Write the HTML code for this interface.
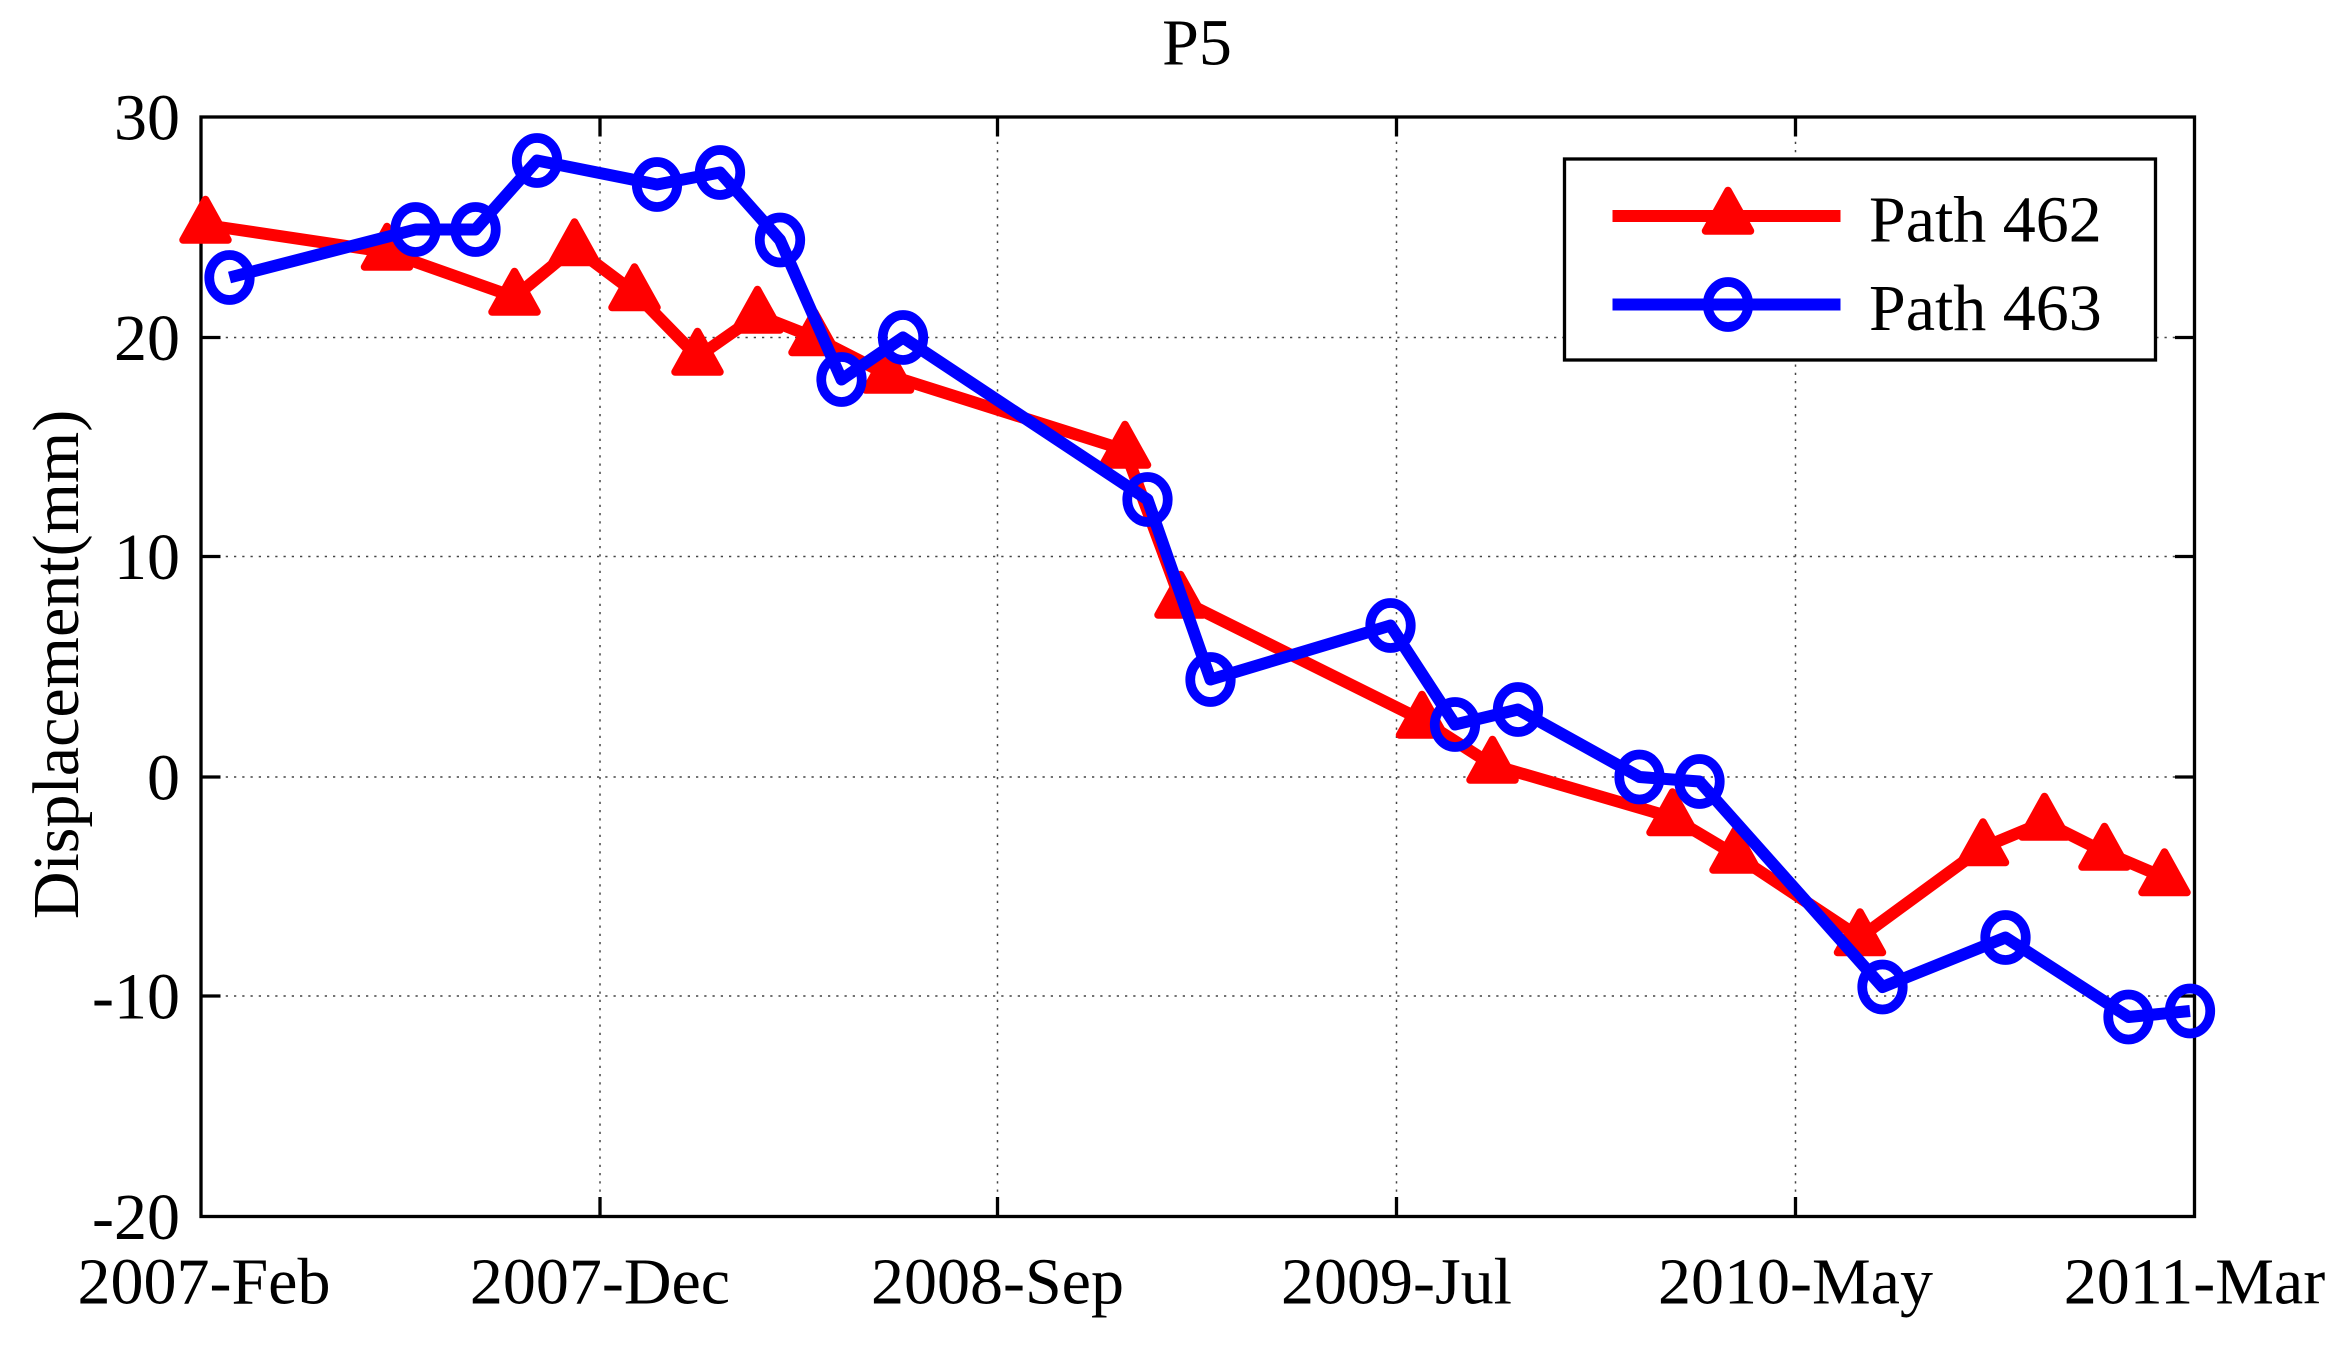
<!DOCTYPE html>
<html><head><style>html,body{margin:0;padding:0;background:#fff}svg{display:block}</style></head>
<body>
<svg width="2351" height="1348" viewBox="0 0 1567.33 898.67" xmlns="http://www.w3.org/2000/svg" font-family="Liberation Serif, serif">
<rect width="1567.33" height="898.67" fill="#fff"/>
<g stroke="#444" stroke-width="1" stroke-dasharray="1.5,4">
<line x1="400" y1="78" x2="400" y2="811"/><line x1="665" y1="78" x2="665" y2="811"/><line x1="931" y1="78" x2="931" y2="811"/><line x1="1197" y1="78" x2="1197" y2="811"/>
<line x1="134" y1="225" x2="1463" y2="225"/><line x1="134" y1="371" x2="1463" y2="371"/><line x1="134" y1="518" x2="1463" y2="518"/><line x1="134" y1="664" x2="1463" y2="664"/>
</g>
<g stroke="#000" stroke-width="2.2">
<rect x="134" y="78" width="1329" height="733" fill="none"/>
<path d="M400 78v13M665 78v13M931 78v13M1197 78v13M400 811v-13M665 811v-13M931 811v-13M1197 811v-13M134 225h13M134 371h13M134 518h13M134 664h13M1463 225h-13M1463 371h-13M1463 518h-13M1463 664h-13"/>
</g>
<g font-size="44" fill="#000">
<g text-anchor="end"><text x="120" y="93">30</text><text x="120" y="240">20</text><text x="120" y="386">10</text><text x="120" y="533">0</text><text x="120" y="679">-10</text><text x="120" y="826">-20</text></g>
<g text-anchor="middle"><text x="136" y="869">2007-Feb</text><text x="400" y="869">2007-Dec</text><text x="665" y="869">2008-Sep</text><text x="931" y="869">2009-Jul</text><text x="1197" y="869">2010-May</text><text x="1463" y="869">2011-Mar</text>
<text x="798" y="43">P5</text>
<text transform="translate(52,443) rotate(-90)">Displacement(mm)</text></g>
</g>
<g stroke="#f00" stroke-width="8" fill="none" stroke-linejoin="round">
<polyline points="137,150 258,168 343,198 383,165 423,195 465,238 505,210 543,225 592,250 750,300 787,400 948,480 995,510 1115,545 1157,570 1240,625 1322,565 1363,548 1403,568 1443,585"/>
</g>
<g fill="#f00" stroke="#f00" stroke-width="5" stroke-linejoin="round">
<path d="M0,-17 L15,10 L-15,10 Z" transform="translate(137,150)"/>
<path d="M0,-17 L15,10 L-15,10 Z" transform="translate(258,168)"/>
<path d="M0,-17 L15,10 L-15,10 Z" transform="translate(343,198)"/>
<path d="M0,-17 L15,10 L-15,10 Z" transform="translate(383,165)"/>
<path d="M0,-17 L15,10 L-15,10 Z" transform="translate(423,195)"/>
<path d="M0,-17 L15,10 L-15,10 Z" transform="translate(465,238)"/>
<path d="M0,-17 L15,10 L-15,10 Z" transform="translate(505,210)"/>
<path d="M0,-17 L15,10 L-15,10 Z" transform="translate(543,225)"/>
<path d="M0,-17 L15,10 L-15,10 Z" transform="translate(592,250)"/>
<path d="M0,-17 L15,10 L-15,10 Z" transform="translate(750,300)"/>
<path d="M0,-17 L15,10 L-15,10 Z" transform="translate(787,400)"/>
<path d="M0,-17 L15,10 L-15,10 Z" transform="translate(948,480)"/>
<path d="M0,-17 L15,10 L-15,10 Z" transform="translate(995,510)"/>
<path d="M0,-17 L15,10 L-15,10 Z" transform="translate(1115,545)"/>
<path d="M0,-17 L15,10 L-15,10 Z" transform="translate(1157,570)"/>
<path d="M0,-17 L15,10 L-15,10 Z" transform="translate(1240,625)"/>
<path d="M0,-17 L15,10 L-15,10 Z" transform="translate(1322,565)"/>
<path d="M0,-17 L15,10 L-15,10 Z" transform="translate(1363,548)"/>
<path d="M0,-17 L15,10 L-15,10 Z" transform="translate(1403,568)"/>
<path d="M0,-17 L15,10 L-15,10 Z" transform="translate(1443,585)"/>
</g>
<g stroke="#00f" stroke-width="8" fill="none" stroke-linejoin="round">
<polyline points="153,185 277,153 317,153 358,107 438,123 480,115 520,160 561,253 602,225 765,333 807,453 927,417 970,483 1012,473 1093,518 1133,521 1255,658 1337,625 1419,678 1460,674"/>
</g>
<g stroke="#00f" stroke-width="6.5" fill="none">
<ellipse cx="153" cy="185" rx="13.5" ry="15"/><ellipse cx="277" cy="153" rx="13.5" ry="15"/><ellipse cx="317" cy="153" rx="13.5" ry="15"/><ellipse cx="358" cy="107" rx="13.5" ry="15"/><ellipse cx="438" cy="123" rx="13.5" ry="15"/><ellipse cx="480" cy="115" rx="13.5" ry="15"/><ellipse cx="520" cy="160" rx="13.5" ry="15"/><ellipse cx="561" cy="253" rx="13.5" ry="15"/><ellipse cx="602" cy="225" rx="13.5" ry="15"/><ellipse cx="765" cy="333" rx="13.5" ry="15"/><ellipse cx="807" cy="453" rx="13.5" ry="15"/><ellipse cx="927" cy="417" rx="13.5" ry="15"/><ellipse cx="970" cy="483" rx="13.5" ry="15"/><ellipse cx="1012" cy="473" rx="13.5" ry="15"/><ellipse cx="1093" cy="518" rx="13.5" ry="15"/><ellipse cx="1133" cy="521" rx="13.5" ry="15"/><ellipse cx="1255" cy="658" rx="13.5" ry="15"/><ellipse cx="1337" cy="625" rx="13.5" ry="15"/><ellipse cx="1419" cy="678" rx="13.5" ry="15"/><ellipse cx="1460" cy="674" rx="13.5" ry="15"/>
</g>
<rect x="1043" y="106" width="394" height="134" fill="#fff" stroke="#000" stroke-width="2.2"/>
<line x1="1075" y1="144" x2="1227" y2="144" stroke="#f00" stroke-width="8"/>
<path d="M0,-17 L15,10 L-15,10 Z" transform="translate(1152,144)" fill="#f00" stroke="#f00" stroke-width="5" stroke-linejoin="round"/>
<line x1="1075" y1="203" x2="1227" y2="203" stroke="#00f" stroke-width="8"/>
<ellipse cx="1152" cy="203" rx="13.5" ry="15" fill="none" stroke="#00f" stroke-width="6.5"/>
<g font-size="44" fill="#000"><text x="1246" y="161">Path 462</text><text x="1246" y="220">Path 463</text></g>
</svg>
</body></html>
